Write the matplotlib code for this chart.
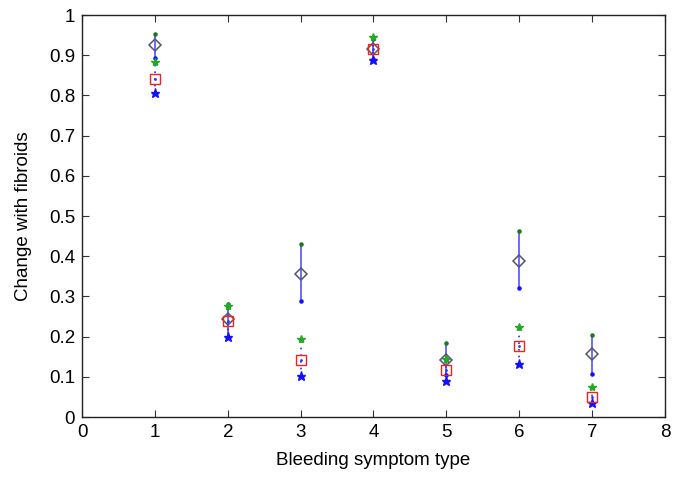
import matplotlib
matplotlib.use("Agg")
import matplotlib.pyplot as plt
import numpy as np

plt.rcParams['font.family'] = ['Liberation Sans', 'DejaVu Sans']

# bleeding symptom types
symptom = [1, 2, 3, 4, 5, 6, 7]

# diamond series (solid error bars, dot ends)
diam_mid = [0.925, 0.245, 0.355, 0.915, 0.142, 0.389, 0.157]
diam_hi = [0.952, 0.282, 0.430, 0.940, 0.183, 0.462, 0.205]
diam_lo = [0.893, 0.200, 0.289, 0.890, 0.105, 0.322, 0.106]

# square series (dotted error bars, star ends)
sq_mid = [0.841, 0.238, 0.143, 0.916, 0.116, 0.176, 0.051]
sq_hi = [0.884, 0.276, 0.193, 0.945, 0.144, 0.225, 0.075]
sq_lo = [0.805, 0.199, 0.103, 0.887, 0.089, 0.131, 0.034]

fig = plt.figure(figsize=(6.74, 4.78), dpi=100)
ax = fig.add_axes([0.1217, 0.1276, 0.8649, 0.841])

# diamond error bars
ax.vlines(symptom, diam_lo, diam_hi, colors='#2a2aff', linewidth=1.3, alpha=0.75, zorder=2)
ax.plot(symptom, diam_hi, '.', color='#1a7a1a', markersize=4.5, zorder=3)
ax.plot(symptom, diam_lo, '.', color='#1010ff', markersize=4.5, zorder=3)
ax.plot(symptom, diam_mid, 'D', markerfacecolor='none', markeredgecolor='#555566',
        markersize=6.5, markeredgewidth=1.1, zorder=4)

# square error bars
ax.vlines(symptom, sq_lo, sq_hi, colors='#2a2aff', linewidth=1.2, linestyles=(0, (1, 3)), zorder=2)
ax.plot(symptom, sq_hi, '*', color='#22aa22', markersize=6, zorder=3)
ax.plot(symptom, sq_lo, '*', color='#1010ff', markersize=6.5, zorder=3)
ax.plot(symptom, sq_mid, 's', markerfacecolor='none', markeredgecolor='#ee2222',
        markersize=7, markeredgewidth=1.0, zorder=4)
ax.plot(symptom, sq_mid, '.', color='#3333ff', markersize=2, zorder=5)

ax.set_xlim(0, 8)
ax.set_ylim(0, 1)
ax.set_xticks(range(0, 9))
ax.set_yticks(np.arange(0, 1.01, 0.1))
ax.set_yticklabels(['0', '0.1', '0.2', '0.3', '0.4', '0.5', '0.6', '0.7', '0.8', '0.9', '1'])
ax.tick_params(direction='in', top=True, right=True, labelsize=13.5, length=5, width=0.8,
               color='#333333', pad=5)
for s in ax.spines.values():
    s.set_linewidth(1.0)
    s.set_color('#222222')

ax.set_xlabel('Bleeding symptom type', fontsize=13.5, labelpad=8)
ax.set_ylabel('Change with fibroids', fontsize=13.5, labelpad=12)

fig.savefig('out.png', dpi=100)
